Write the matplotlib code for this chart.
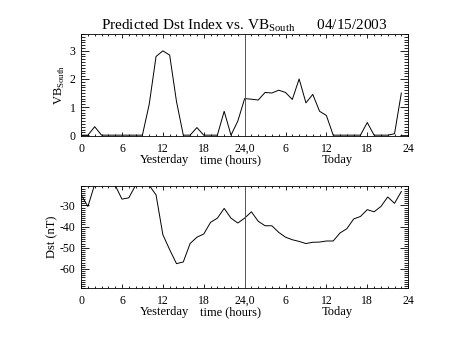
import matplotlib
matplotlib.use("Agg")
import matplotlib.pyplot as plt
from matplotlib.ticker import MultipleLocator

plt.rcParams['font.family'] = ['Liberation Serif', 'DejaVu Serif']
plt.rcParams['mathtext.fontset'] = 'custom'
plt.rcParams['mathtext.rm'] = 'Liberation Serif'
plt.rcParams['axes.unicode_minus'] = False

# hourly values, yesterday 0..23 then today 0..23
hours = list(range(48))
vb_south = [0, 0, 0.3, 0, 0, 0, 0, 0, 0, 0, 1.1, 2.8, 3.0, 2.85, 1.2, 0, 0, 0.27, 0, 0, 0, 0.85, 0, 0.5,
            1.3, 1.28, 1.25, 1.52, 1.5, 1.6, 1.52, 1.27, 2.0, 1.15, 1.45, 0.85, 0.7, 0, 0, 0, 0, 0, 0.45, 0,
            0, 0, 0.05, 1.5]
dst = [-25, -30.5, -20, -18, -18, -20.5, -27, -26.4, -20.5, -17, -20.5, -25, -43.8, -50.9, -57.5, -56.7,
       -48, -45, -43.5, -38, -36, -31.4, -36, -38.3,
       -36, -33, -37.5, -39.6, -39.6, -42.7, -45, -46.2, -47, -48, -47.4, -47.3, -46.8, -46.8, -43, -41,
       -36.4, -35.2, -32, -33, -30.5, -26, -29, -23.4]
xtick_pos = [0, 6, 12, 18, 24, 30, 36, 42, 48]
xtick_lbl = ['0', '6', '12', '18', '24,0', '6', '12', '18', '24']

fig = plt.figure(figsize=(4.53, 3.40), dpi=100)
ax1 = fig.add_axes([0.179, 0.600, 0.722, 0.300])
ax2 = fig.add_axes([0.179, 0.153, 0.722, 0.300])


def style(ax):
    ax.set_xlim(0, 48)
    ax.set_xticks(xtick_pos)
    ax.set_xticklabels(xtick_lbl)
    ax.xaxis.set_minor_locator(MultipleLocator(1))
    ax.tick_params(which='both', direction='in', top=True, right=True, labelsize=8.5, width=0.6)
    ax.tick_params(axis='x', which='major', length=3, pad=5)
    ax.tick_params(axis='x', which='minor', length=1.5)
    ax.tick_params(axis='y', which='major', length=6, pad=4)
    ax.tick_params(axis='y', which='minor', length=3)
    for s in ax.spines.values():
        s.set_linewidth(0.6)
    ax.axvline(24, color='#555555', lw=0.7)
    tr = ax.get_xaxis_transform()
    ax.text(12.3, -0.18, 'Yesterday', transform=tr, ha='center', va='top', fontsize=9)
    ax.text(22, -0.18, 'time (hours)', transform=tr, ha='center', va='top', fontsize=9)
    ax.text(37.6, -0.18, 'Today', transform=tr, ha='center', va='top', fontsize=9)


ax1.plot(hours, vb_south, color='black', lw=0.7)
ax1.set_ylim(-0.03, 3.6)
ax1.set_yticks([0, 1, 2, 3])
ax1.yaxis.set_minor_locator(MultipleLocator(0.1))
style(ax1)
ax1.set_ylabel(r'VB$_{\mathrm{South}}$', fontsize=9, labelpad=2)
ax1.set_title(r'Predicted Dst Index vs. VB$_{\mathrm{South}}$      04/15/2003', fontsize=11, pad=3)

ax2.plot(hours, dst, color='black', lw=0.7)
ax2.set_ylim(-69, -20.8)
ax2.set_yticks([-60, -50, -40, -30])
ax2.yaxis.set_minor_locator(MultipleLocator(1))
style(ax2)
ax2.set_ylabel('Dst (nT)', fontsize=9, labelpad=1)

fig.savefig('out.png', dpi=100)
